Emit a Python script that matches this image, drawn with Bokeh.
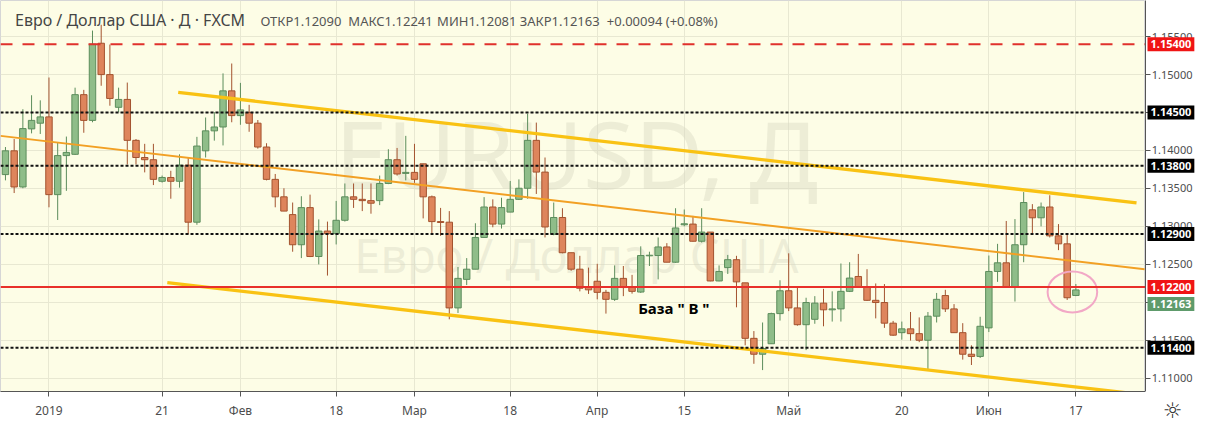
import pandas as pd
from bokeh.plotting import figure
from bokeh.layouts import row
from bokeh.models import (ColumnDataSource, Range1d, FixedTicker, PrintfTickFormatter,
                          Span, Label)
from bokeh.embed import file_html
from bokeh.resources import INLINE

# ---------------- data (EUR/USD daily, FXCM) ----------------
start_date, end_date = "2018-12-24", "2019-06-17"
holidays = ["2018-12-25", "2019-01-01"]

opens = [1.13682, 1.13995, 1.13519, 1.14284, 1.14359, 1.14442, 1.13418, 1.13932, 1.13949, 1.14735,
         1.14396, 1.15412, 1.14999, 1.14568, 1.14672, 1.14133, 1.13907, 1.13878, 1.13594, 1.13644,
         1.13594, 1.13807, 1.13055, 1.13995, 1.14258, 1.14309, 1.14785, 1.14459, 1.14501, 1.14359,
         1.14045, 1.13619, 1.13389, 1.13155, 1.12758, 1.13247, 1.12603, 1.12938, 1.12904, 1.13080,
         1.13389, 1.13356, 1.13339, 1.13339, 1.13565, 1.13878, 1.13698, 1.13711, 1.13824, 1.13389,
         1.13063, 1.13055, 1.11926, 1.12302, 1.12436, 1.12854, 1.13255, 1.13030, 1.13188, 1.13356,
         1.13502, 1.14133, 1.13715, 1.12896, 1.13117, 1.12653, 1.12436, 1.12198, 1.12277, 1.12131,
         1.12039, 1.12315, 1.12198, 1.12135, 1.12612, 1.12616, 1.12729, 1.12528, 1.13021, 1.13030,
         1.12804, 1.12925, 1.12281, 1.12457, 1.12561, 1.12256, 1.11525, 1.11316, 1.11454, 1.11851,
         1.12152, 1.11926, 1.11705, 1.11776, 1.11989, 1.11901, 1.11913, 1.12144, 1.12340, 1.12206,
         1.12026, 1.11997, 1.11725, 1.11600, 1.11650, 1.11587, 1.11500, 1.11817, 1.12089, 1.11913,
         1.11600, 1.11316, 1.11287, 1.11663, 1.12406, 1.12520, 1.12198, 1.12758, 1.13218, 1.13113,
         1.13255, 1.12875, 1.12770, 1.12090]
highs = [1.14045, 1.14150, 1.14543, 1.14727, 1.14660, 1.14961, 1.14108, 1.14183, 1.14827, 1.14798,
         1.15579, 1.15655, 1.15395, 1.14827, 1.14894, 1.14150, 1.14087, 1.14087, 1.13669, 1.13732,
         1.13949, 1.13907, 1.14179, 1.14434, 1.14505, 1.15015, 1.15145, 1.14890, 1.14601, 1.14401,
         1.14095, 1.13690, 1.13502, 1.13314, 1.13397, 1.13418, 1.13092, 1.13063, 1.13335, 1.13565,
         1.13565, 1.13565, 1.13565, 1.13669, 1.14016, 1.14033, 1.14192, 1.14087, 1.13824, 1.13406,
         1.13243, 1.13201, 1.12465, 1.12582, 1.13041, 1.13385, 1.13356, 1.13377, 1.13598, 1.13619,
         1.14484, 1.14367, 1.13907, 1.13314, 1.13239, 1.12653, 1.12612, 1.12457, 1.12507, 1.12164,
         1.12486, 1.12478, 1.12361, 1.12737, 1.12666, 1.12854, 1.12779, 1.13239, 1.13222, 1.13138,
         1.13239, 1.12925, 1.12486, 1.12624, 1.12612, 1.12256, 1.11621, 1.11734, 1.11863, 1.12290,
         1.12645, 1.12194, 1.12060, 1.12081, 1.12177, 1.12144, 1.12511, 1.12528, 1.12637, 1.12436,
         1.12248, 1.12240, 1.11755, 1.11746, 1.11872, 1.11801, 1.11872, 1.12123, 1.12164, 1.11976,
         1.11725, 1.11433, 1.11809, 1.12616, 1.12770, 1.13071, 1.13096, 1.13452, 1.13293, 1.13314,
         1.13410, 1.13030, 1.12896, 1.12241]
lows = [1.13606, 1.13439, 1.13502, 1.14225, 1.14217, 1.13251, 1.13084, 1.13468, 1.13941, 1.14233,
        1.14371, 1.14852, 1.14589, 1.14505, 1.13815, 1.13815, 1.13711, 1.13544, 1.13577, 1.13364,
        1.13510, 1.12896, 1.13021, 1.13907, 1.14129, 1.14066, 1.14371, 1.14338, 1.14246, 1.14024,
        1.13606, 1.13251, 1.13201, 1.12666, 1.12582, 1.12595, 1.12499, 1.12352, 1.12762, 1.13063,
        1.13243, 1.13201, 1.13167, 1.13280, 1.13556, 1.13669, 1.13606, 1.13573, 1.13105, 1.12896,
        1.12875, 1.11776, 1.11859, 1.12227, 1.12436, 1.12854, 1.12988, 1.12971, 1.13188, 1.13347,
        1.13364, 1.13427, 1.12854, 1.12883, 1.12645, 1.12415, 1.12144, 1.12110, 1.12039, 1.11851,
        1.12018, 1.12081, 1.12114, 1.12123, 1.12478, 1.12302, 1.12528, 1.12520, 1.13000, 1.12800,
        1.12787, 1.12277, 1.12277, 1.12373, 1.11934, 1.11433, 1.11190, 1.11107, 1.11454, 1.11759,
        1.11884, 1.11692, 1.11370, 1.11717, 1.11684, 1.11746, 1.11746, 1.12135, 1.12194, 1.12018,
        1.11788, 1.11663, 1.11558, 1.11508, 1.11496, 1.11475, 1.11098, 1.11734, 1.11872, 1.11600,
        1.11245, 1.11174, 1.11266, 1.11608, 1.12269, 1.12198, 1.12010, 1.12528, 1.12904, 1.13000,
        1.12854, 1.12687, 1.12031, 1.12081]
closes = [1.13995, 1.13519, 1.14288, 1.14396, 1.14442, 1.13418, 1.13932, 1.13974, 1.14735, 1.14396,
          1.15400, 1.14999, 1.14685, 1.14672, 1.14133, 1.13907, 1.13878, 1.13619, 1.13644, 1.13594,
          1.13807, 1.13055, 1.14058, 1.14258, 1.14309, 1.14785, 1.14459, 1.14534, 1.14359, 1.14045,
          1.13619, 1.13389, 1.13201, 1.12758, 1.13247, 1.12603, 1.12938, 1.12904, 1.13080, 1.13389,
          1.13356, 1.13339, 1.13305, 1.13565, 1.13878, 1.13690, 1.13711, 1.13619, 1.13389, 1.13063,
          1.13051, 1.11926, 1.12315, 1.12436, 1.12854, 1.13255, 1.13030, 1.13247, 1.13356, 1.13502,
          1.14133, 1.13715, 1.12992, 1.13117, 1.12653, 1.12436, 1.12185, 1.12164, 1.12131, 1.12039,
          1.12315, 1.12194, 1.12144, 1.12616, 1.12620, 1.12729, 1.12528, 1.12979, 1.13034, 1.12804,
          1.12925, 1.12281, 1.12406, 1.12561, 1.12269, 1.11525, 1.11316, 1.11391, 1.11851, 1.12152,
          1.11926, 1.11705, 1.11997, 1.11989, 1.11901, 1.11913, 1.12144, 1.12319, 1.12206, 1.12026,
          1.11997, 1.11725, 1.11567, 1.11650, 1.11587, 1.11500, 1.11817, 1.12039, 1.11913, 1.11600,
          1.11316, 1.11287, 1.11684, 1.12406, 1.12520, 1.12198, 1.12758, 1.13314, 1.13113, 1.13255,
          1.12875, 1.12770, 1.12060, 1.12163]

tick_dates = ["2019-01-02", "2019-01-21", "2019-02-01", "2019-02-18", "2019-03-01", "2019-03-18",
              "2019-04-01", "2019-04-15", "2019-05-01", "2019-05-20", "2019-06-03", "2019-06-17"]
tick_labels = ["2019", "21", "Фев", "18", "Мар", "18", "Апр", "15", "Май", "20", "Июн", "17"]

price_ticks = [1.110, 1.115, 1.120, 1.125, 1.130, 1.135, 1.140, 1.145, 1.150, 1.155]

# horizontal levels
level_dashed_red = 1.15400
levels_black = [1.14500, 1.13800, 1.12900, 1.11400]
level_red = 1.12200
last_close = 1.12163

# trend lines (bar position, price)
upper_x, upper_y = [19.85, 129.97], [1.14766, 1.13309]
lower_x, lower_y = [18.6, 130.2], [1.12259, 1.10790]
mid_x, mid_y = [-0.57, 130.9], [1.14192, 1.12434]

# annotations
base_text = 'База  " В "'
base_pos = (72.7, 1.11925)
circle_pos = (122.6, 1.12137)
circle_size = (5.7, 0.0054)

x_lo, x_hi = -0.57, 131.0
y_lo, y_hi = 1.10825, 1.15975

# ---------------- build ----------------
dates = [d for d in pd.bdate_range(start_date, end_date) if d.strftime("%Y-%m-%d") not in holidays]
pos = list(range(len(dates)))
date_index = {d.strftime("%Y-%m-%d"): i for i, d in enumerate(dates)}
tick_pos = [date_index[d] for d in tick_dates]

UP_FILL, UP_LINE = "#8fbd89", "#5c8d5c"
DN_FILL, DN_LINE = "#de855c", "#a3532f"

up = [c >= o for o, c in zip(opens, closes)]
src = ColumnDataSource(dict(
    x=pos, o=opens, h=highs, l=lows, c=closes,
    top=[max(o, c) for o, c in zip(opens, closes)],
    bottom=[min(o, c) for o, c in zip(opens, closes)],
    fill=[UP_FILL if u else DN_FILL for u in up],
    line=[UP_LINE if u else DN_LINE for u in up],
))

FONT = "Noto Sans"
AXIS_W = 53
BOTTOM = 30

p = figure(width=1198 - AXIS_W, height=425, output_backend="svg", toolbar_location=None,
           x_range=Range1d(x_lo, x_hi), y_range=Range1d(y_lo, y_hi),
           y_axis_location="right", min_border=0, min_border_bottom=BOTTOM)
p.background_fill_color = "#fdfde6"
p.border_fill_color = "white"
p.outline_line_color = "#d6d6d6"
p.yaxis.visible = False

# x axis
p.xaxis.ticker = FixedTicker(ticks=tick_pos)
p.xaxis.major_label_overrides = {tp: lab for tp, lab in zip(tick_pos, tick_labels)}
ax = p.xaxis[0]
ax.axis_line_color = "#555555"
ax.major_tick_line_color = "#555555"
ax.major_tick_in = 0
ax.major_tick_out = 5
ax.minor_tick_line_color = None
ax.major_label_text_color = "#4d4d4d"
ax.major_label_text_font = FONT
ax.major_label_text_font_size = "12px"
ax.major_label_standoff = 5
p.xgrid.ticker = FixedTicker(ticks=tick_pos)
p.ygrid.ticker = FixedTicker(ticks=price_ticks)
p.grid.grid_line_color = "#e8e8d2"
p.grid.grid_line_width = 1

# watermark
p.add_layout(Label(x=65.6, y=1.13963, text="EURUSD, Д", text_align="center",
                   text_baseline="middle", text_font=FONT, text_font_size="94px",
                   text_color="#d9d9c4", text_alpha=0.45, level="underlay"))
p.add_layout(Label(x=65.6, y=1.12625, text="Евро / Доллар США", text_align="center",
                   text_baseline="middle", text_font=FONT, text_font_size="47px",
                   text_color="#d9d9c4", text_alpha=0.45, level="underlay"))

# candles
p.segment(x0="x", y0="h", x1="x", y1="l", source=src, line_color="line", line_width=1)
p.vbar(x="x", width=0.74, top="top", bottom="bottom", source=src,
       fill_color="fill", line_color="line", line_width=1)

# trend lines
p.line(mid_x, mid_y, line_color="#f2a024", line_width=2)
p.line(upper_x, upper_y, line_color="#f9c213", line_width=3.3)
p.line(lower_x, lower_y, line_color="#f9c213", line_width=3.3)

# horizontal levels
p.add_layout(Span(location=level_dashed_red, dimension="width", line_color="#e0312c",
                  line_width=2, line_dash="12 10"))
for lv in levels_black:
    p.add_layout(Span(location=lv, dimension="width", line_color="#111111",
                      line_width=2, line_dash="3 2"))
p.add_layout(Span(location=level_red, dimension="width", line_color="#e8302a", line_width=2))

# circle + base text
p.ellipse(x=[circle_pos[0]], y=[circle_pos[1]], width=circle_size[0], height=circle_size[1],
          fill_alpha=0, line_color="#f2a8c6", line_width=2)
p.add_layout(Label(x=base_pos[0], y=base_pos[1], text=base_text, text_font=FONT,
                   text_font_size="15px", text_font_style="bold", text_color="black",
                   text_baseline="middle"))

# title
p.add_layout(Label(x=1.1, y=1.15713, text="Евро / Доллар США · Д · FXCM", text_font=FONT,
                   text_font_size="16px", text_color="#454545", text_baseline="middle"))
ohlc = [("ОТКР1.12090", 29.3), ("МАКС1.12241", 39.4), ("МИН1.12081", 49.6),
        ("ЗАКР1.12163", 59.1), ("+0.00094 (+0.08%)", 69.1)]
for t, xx in ohlc:
    p.add_layout(Label(x=xx, y=1.15700, text=t, text_font=FONT, text_font_size="13px",
                       text_color="#555555", text_baseline="middle"))

# ---------------- price scale panel (right) ----------------
q = figure(width=AXIS_W, height=425, output_backend="svg", toolbar_location=None,
           x_range=Range1d(0, AXIS_W), y_range=p.y_range, y_axis_location="left",
           min_border=0, min_border_bottom=BOTTOM)
q.background_fill_color = "white"
q.border_fill_color = "white"
q.outline_line_color = None
q.grid.visible = False
ya = q.yaxis[0]
ya.ticker = FixedTicker(ticks=price_ticks)
ya.formatter = PrintfTickFormatter(format="%.5f")
ya.axis_line_color = "#555555"
ya.major_tick_line_color = "#555555"
ya.major_tick_in = 5
ya.major_tick_out = 0
ya.minor_tick_line_color = None
ya.major_label_text_color = "#4d4d4d"
ya.major_label_text_font = FONT
ya.major_label_text_font_size = "11px"
ya.major_label_standoff = -47
xa = q.xaxis[0]
xa.ticker = FixedTicker(ticks=[27])
xa.major_label_overrides = {27: "☼"}
xa.axis_line_color = None
xa.major_tick_line_color = None
xa.minor_tick_line_color = None
xa.major_label_text_font = "DejaVu Sans"
xa.major_label_text_font_size = "22px"
xa.major_label_text_color = "#333333"
xa.major_label_standoff = 0

tags = [(level_dashed_red, "#f01414", 0)] + [(lv, "#000000", 0) for lv in levels_black] + \
       [(level_red, "#f01414", 0), (last_close, "#5e9b6b", -14)]
for lv, col, yo in tags:
    q.add_layout(Label(x=2, y=lv, y_offset=yo, text=f"{lv:.5f}",
                       text_font=FONT, text_font_size="11px", text_font_style="bold",
                       text_color="white", text_baseline="middle", text_align="left",
                       background_fill_color=col, padding=3))

open("out.html", "w").write(file_html(row(p, q), INLINE))
